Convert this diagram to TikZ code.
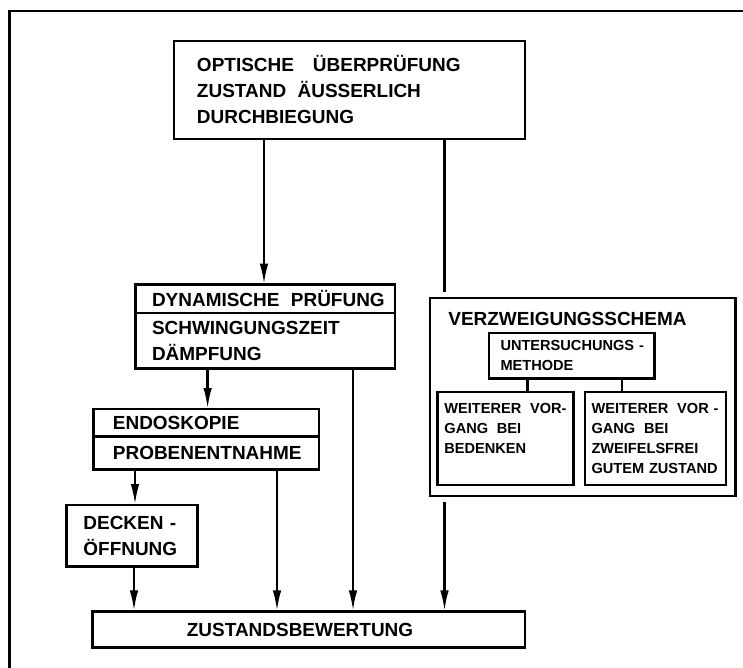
\documentclass[tikz,border=0pt]{standalone}
\usepackage{fontspec}
\setmainfont{Liberation Sans}
\usetikzlibrary{arrows.meta, positioning}

\newcommand\grossschrift{\fontsize{10.8}{14.8}\selectfont\bfseries}
\newcommand\kleinschrift{\fontsize{8.3}{11.5}\selectfont\bfseries}
\newcommand\lz{\kern0.6em}

\begin{document}
\begin{tikzpicture}[
    x=0.02cm, y=-0.02cm,
    every node/.style={font=\grossschrift},
    kasten/.style={draw, line width=1.4pt, rectangle, align=left, inner ysep=0pt, outer sep=0pt,
        execute at begin node={\exhyphenpenalty=10000 \hyphenpenalty=10000}},
    klein/.style={font=\kleinschrift},
    schemakasten/.style={draw, line width=1.4pt, fill=white, preaction={draw=white, line width=7pt}},
    pfeil/.style={-{Latex[length=4.2mm, width=1.7mm]}, line width=1.4pt},
    linie/.style={line width=1.4pt},
    rahmen/.style={line width=1.6pt}
]
\useasboundingbox (0,0) rectangle (743,668);
\draw[rahmen] (9.5,668) |- (743,11);

\node[kasten, anchor=north west, minimum width=7.02cm, minimum height=1.96cm, inner xsep=0.46cm, text width=6.10cm] (optik) at (174,41) {OPTISCHE\kern1em ÜBERPRÜFUNG\\ZUSTAND\lz ÄUSSERLICH\\DURCHBIEGUNG};
\node[kasten, anchor=north west, minimum width=5.19cm, minimum height=0.568cm, inner xsep=0.33cm, text width=4.53cm] (dynkopf) at (135.5,284.6) {DYNAMISCHE\lz PRÜFUNG};
\node[kasten, below=0pt of dynkopf, minimum width=5.19cm, minimum height=1.11cm, inner xsep=0.33cm, text width=4.53cm] (dynrumpf) {SCHWINGUNGSZEIT\\DÄMPFUNG};
\node[kasten, anchor=north west, minimum width=4.51cm, minimum height=0.554cm, inner xsep=0.39cm, text width=3.73cm] (endokopf) at (93.4,409) {ENDOSKOPIE};
\node[kasten, below=0pt of endokopf, minimum width=4.51cm, minimum height=0.656cm, inner xsep=0.39cm, text width=3.73cm] (endorumpf) {PROBENENTNAHME};
\node[kasten, anchor=north west, minimum width=2.62cm, minimum height=1.23cm, inner xsep=0.34cm, text width=1.94cm] (decken) at (66.4,505) {DECKEN~-\\ÖFFNUNG};
\node[kasten, anchor=north west, minimum width=8.65cm, minimum height=0.724cm, inner xsep=1.89cm, text width=4.87cm] (bewertung) at (92.4,611.4) {ZUSTANDSBEWERTUNG};

\coordinate (s1) at (264,0);
\coordinate (s2) at (444.5,0);
\coordinate (s3) at (207.6,0);
\coordinate (s4) at (353,0);
\coordinate (s5) at (135,0);
\coordinate (s6) at (277,0);
\coordinate (s7) at (134,0);
\coordinate (m1) at (527.5,0);
\coordinate (m2) at (622,0);

\draw[pfeil] (optik.south -| s1) -- (dynkopf.north -| s1);
\draw[pfeil] (optik.south -| s2) -- (bewertung.north -| s2);
\draw[pfeil] (dynrumpf.south -| s3) -- (endokopf.north -| s3);
\draw[pfeil] (dynrumpf.south -| s4) -- (bewertung.north -| s4);
\draw[pfeil] (endorumpf.south -| s5) -- (decken.north -| s5);
\draw[pfeil] (endorumpf.south -| s6) -- (bewertung.north -| s6);
\draw[pfeil] (decken.south -| s7) -- (bewertung.north -| s7);

\node[schemakasten, anchor=north west, minimum width=6.11cm, minimum height=3.96cm, outer sep=0pt] (schema) at (430,298) {};
\node[anchor=west, inner sep=0pt] (titel) at (448,318.7) {VERZWEIGUNGSSCHEMA};
\node[kasten, klein, anchor=north west, minimum width=3.31cm, minimum height=0.91cm, inner xsep=0.23cm, text width=2.85cm] (methode) at (489,332.8) {UNTERSUCHUNGS~-\\METHODE};
\node[kasten, klein, anchor=north west, minimum width=2.72cm, minimum height=1.86cm, inner xsep=0.14cm, text width=2.44cm] (bedenken) at (437.4,392) {WEITERER\lz VOR-\\GANG\lz BEI\\BEDENKEN\\\mbox{}};
\node[kasten, klein, anchor=north west, minimum width=2.82cm, minimum height=1.86cm, inner xsep=0.13cm, text width=2.56cm] (gut) at (585,392) {WEITERER\lz VOR~-\\GANG\lz BEI\\ZWEIFELSFREI\\GUTEM~ZUSTAND};
\draw[linie] (methode.south -| m1) -- (bedenken.north -| m1);
\draw[linie] (methode.south -| m2) -- (gut.north -| m2);
\end{tikzpicture}
\end{document}
